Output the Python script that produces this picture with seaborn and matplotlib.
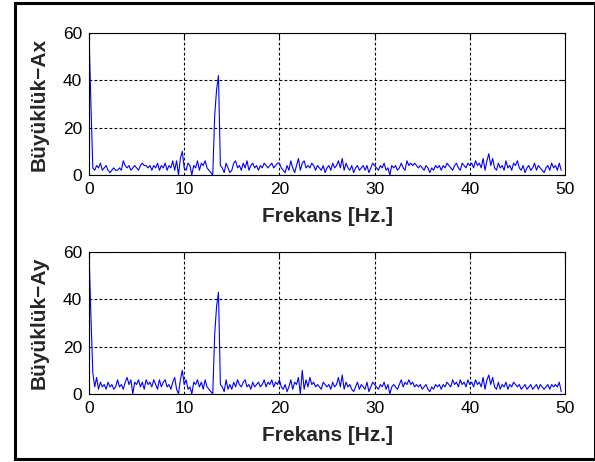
import numpy as np
import pandas as pd
import matplotlib
matplotlib.use("Agg")
import matplotlib.pyplot as plt
import seaborn as sns
from matplotlib.patches import Rectangle

# spectrum magnitudes, 0.2 Hz steps from 0 Hz
mag_ax = [
    60, 30, 3, 2, 4,   3, 5, 2, 3, 4,   2, 1, 2, 3, 2,   2, 3, 2, 6, 4,
    3, 4, 2, 3, 4,     3, 2, 4, 5, 4,   4, 3, 4, 2, 4,   3, 5, 2, 4, 3,
    5, 2, 4, 3, 6,     2, 6, 0, 7, 10,  3, 2, 5, 4, 0,   4, 3, 6, 2, 5,
    4, 6, 3, 2, 1,     0, 25, 36, 42, 4,  3, 1, 5, 3, 1,  2, 5, 6, 3, 4,
    2, 5, 3, 6, 2,     4, 5, 3, 4, 2,   4, 3, 5, 4, 3,   4, 5, 3, 4, 5,
    5, 3, 2, 1, 4,     2, 6, 3, 1, 4,   7, 2, 5, 6, 3,   4, 3, 5, 4, 2,
    4, 3, 2, 4, 1,     3, 4, 2, 5, 3,   4, 6, 3, 7, 2,   5, 3, 2, 4, 1,
    3, 4, 2, 3, 4,     2, 4, 1, 3, 5,   4, 3, 2, 4, 3,   5, 2, 3, 0, 4,
    3, 4, 2, 3, 5,     3, 2, 6, 4, 5,   4, 5, 4, 3, 4,   3, 2, 4, 3, 1,
    3, 2, 4, 3, 4,     2, 4, 3, 5, 4,   3, 2, 4, 5, 3,   2, 5, 4, 3, 5,
    4, 5, 3, 6, 4,     5, 3, 7, 2, 6,   9, 4, 7, 3, 2,   5, 3, 4, 2, 6,
    3, 4, 2, 5, 4,     6, 3, 2, 4, 1,   3, 4, 2, 3, 5,   2, 4, 3, 2, 1,
    3, 4, 2, 5, 3,     4, 2, 5, 2,
]
mag_ay = [
    60, 33, 9, 3, 7,   2, 5, 3, 4, 2,   5, 3, 4, 2, 3,   6, 3, 4, 2, 5,
    7, 4, 6, 0, 5,     4, 6, 3, 5, 2,   6, 4, 5, 3, 6,   4, 2, 6, 3, 5,
    6, 3, 4, 2, 5,     7, 2, 0, 6, 10,  4, 6, 2, 3, 0,   5, 4, 6, 3, 5,
    2, 6, 3, 2, 1,     0, 25, 37, 43, 4,  3, 1, 6, 2, 4,  2, 5, 3, 6, 4,
    3, 5, 6, 3, 4,     2, 5, 3, 4, 5,   3, 4, 6, 3, 5,   4, 6, 3, 5, 4,
    6, 3, 2, 4, 1,     3, 6, 2, 5, 4,   7, 0, 10, 2, 6,  3, 7, 4, 5, 3,
    4, 3, 2, 5, 4,     3, 4, 2, 5, 3,   4, 7, 3, 8, 2,   5, 3, 4, 2, 1,
    3, 5, 2, 4, 3,     2, 5, 1, 3, 5,   4, 3, 2, 4, 3,   5, 2, 4, 0, 3,
    4, 3, 2, 4, 6,     3, 5, 4, 6, 4,   5, 3, 4, 3, 4,   2, 3, 4, 2, 1,
    3, 2, 4, 3, 4,     2, 4, 3, 5, 4,   3, 6, 4, 5, 3,   6, 4, 5, 3, 6,
    4, 5, 3, 6, 4,     5, 3, 7, 2, 6,   8, 4, 7, 3, 2,   5, 2, 4, 3, 5,
    2, 4, 3, 5, 4,     3, 4, 2, 3, 4,   2, 3, 4, 2, 3,   4, 2, 4, 3, 2,
    3, 4, 2, 4, 3,     4, 3, 5, 1,
]
freq = np.arange(len(mag_ax)) * 0.2

x_ticks = [0, 10, 20, 30, 40, 50]
y_ticks = [0, 20, 40, 60]
y_labels = ["Büyüklük\u2212Ax", "Büyüklük\u2212Ay"]
x_label = "Frekans [Hz.]"

sns.set_theme(style="white")
plt.rcParams["font.family"] = ["Liberation Sans", "DejaVu Sans"]

fig = plt.figure(figsize=(5.95, 4.62), dpi=100)
fig.patch.set_facecolor("white")

# black frame around the whole figure
fig.patches.append(Rectangle((14.5 / 595, 3.5 / 462), 580 / 595, 456 / 462,
                             transform=fig.transFigure, fill=False,
                             edgecolor="black", linewidth=2.2))

ax1 = fig.add_axes([89 / 595, 1 - 175 / 462, 476 / 595, 142 / 462])
ax2 = fig.add_axes([89 / 595, 1 - 394 / 462, 476 / 595, 142 / 462])

for ax, vals, ylab in zip([ax1, ax2], [mag_ax, mag_ay], y_labels):
    df = pd.DataFrame({"f": freq, "m": vals})
    sns.lineplot(data=df, x="f", y="m", ax=ax, color="#0000ff", linewidth=0.8)
    ax.set_xlim(0, 50)
    ax.set_ylim(0, 60)
    ax.set_xticks(x_ticks)
    ax.set_yticks(y_ticks)
    ax.tick_params(direction="in", length=4, width=0.8, colors="black",
                   top=True, right=True, labelsize=12.5, pad=5)
    ax.grid(True, color="black", linestyle=(0, (2.5, 2)), linewidth=0.8)
    for s in ax.spines.values():
        s.set_color("black")
        s.set_linewidth(0.8)
    ax.set_xlabel(x_label, fontsize=15, fontweight="bold", labelpad=7)
    ax.set_ylabel(ylab, fontsize=15, fontweight="bold", labelpad=10)

fig.savefig("out.png", dpi=100, facecolor="white")
